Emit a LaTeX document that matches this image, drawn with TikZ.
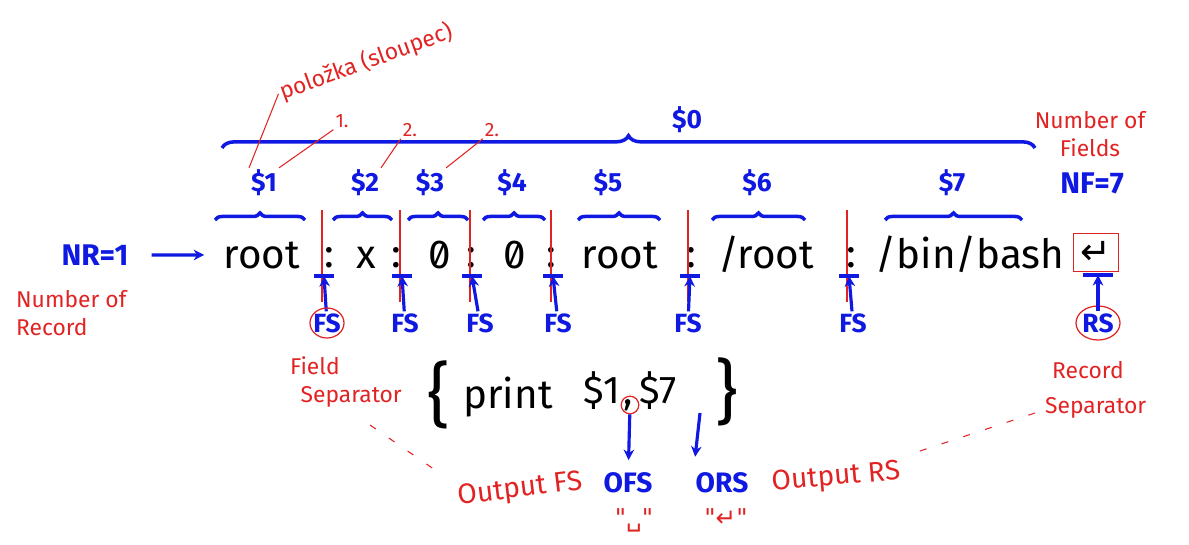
\documentclass[tikz,border=0pt]{standalone}
\usepackage{fontspec}
\setmainfont{Fira Sans}
\newfontfamily\symfont{DejaVu Sans}
\usetikzlibrary{arrows.meta,decorations.pathreplacing}
\definecolor{inkblue}{RGB}{15,25,225}
\definecolor{inkred}{RGB}{225,35,35}

\begin{document}
\begin{tikzpicture}[x=0.02cm,y=-0.02cm,
  rec/.style={font=\fontsize{23}{26}\selectfont,inner sep=0pt,anchor=base},
  fld/.style={text=inkblue,font=\bfseries\fontsize{15}{17}\selectfont,inner sep=1pt},
  note/.style={text=inkred,font=\fontsize{13}{16}\selectfont,align=left,inner sep=1pt},
  brc/.style={draw=inkblue,line width=2pt,decorate,decoration={brace,amplitude=#1}},
  sepline/.style={draw=inkred,line width=0.6pt},
  ring/.style={draw=inkred,line width=0.7pt},
  fsarrow/.style={draw=inkblue,line width=1.8pt,-{Stealth[length=6pt,width=6pt]}},
  tick/.style={draw=inkblue,line width=1.8pt},
  guide/.style={draw=inkred,line width=0.6pt,dash pattern=on 4pt off 9pt}]
\useasboundingbox (0,0) rectangle (1189,544);

% whole record and its fields
\draw[brc=7pt] (222,148) -- (1035,148);
\node[fld] (d0) at (687,120) {\$0};
\foreach \a/\b/\m [count=\i] in {215/305/264,333/392/365,408/468/430,483/545/512,578/660/608,712/805/757,885/1022/952}{
  \draw[brc=4pt] (\a,220) -- (\b,220);
  \node[fld] (d\i) at (\m,183) {\$\i};
}
\node[fld,font=\bfseries\fontsize{17}{19}\selectfont] (nf) at (1092,183) {NF=7};
\node[note,align=center] (nfnote) at (1090,134) {Number of\\Fields};

% position labels
\node[note,rotate=20] (pol) at (366,62) {položka (sloupec)};
\node[note,font=\fontsize{11}{13}\selectfont] (n1) at (342,121) {1.};
\node[note,font=\fontsize{11}{13}\selectfont] (n2) at (410,130) {2.};
\node[note,font=\fontsize{11}{13}\selectfont] (n3) at (492,130) {2.};
\draw[sepline] (d1.north west) -- (pol.west);
\draw[sepline] (d1.north east) -- (n1.south west);
\draw[sepline] (d2.north east) -- (n2.south west);
\draw[sepline] (d3.north east) -- (n3.south west);

% the record
\node[fld,font=\bfseries\fontsize{17}{19}\selectfont] (nr) at (95,255) {NR=1};
\node[note] (nrnote) at (14,313) [anchor=west] {Number of\\Record};
\node[rec] (r1) at (262,268) {root};
\node[rec] (c1) at (329,267) {:};
\node[rec] (r2) at (366,268) {x};
\node[rec] (c2) at (396,267) {:};
\node[rec] (r3) at (440,268) {\addfontfeatures{RawFeature=+zero}0};
\node[rec] (c3) at (471,267) {:};
\node[rec] (r4) at (515,268) {\addfontfeatures{RawFeature=+zero}0};
\node[rec] (c4) at (551,267) {:};
\node[rec] (r5) at (620,268) {root};
\node[rec] (c5) at (691,267) {:};
\node[rec] (r6) at (766,268) {/root};
\node[rec] (c6) at (851,267) {:};
\node[rec] (r7) at (970,268) {/bin/bash};
\node[rec,draw=inkred,line width=0.6pt,inner sep=4pt] (ret) at (1096,264) {\symfont\fontsize{21}{24}\selectfont ↵};
\draw[fsarrow,shorten <=12pt,shorten >=11pt] (nr) -- (r1.west);

% field separators
\foreach \s/\f [count=\k] in {322/327,400/405,470/480,551/558,688/688,847/853}{
  \draw[sepline] (\s,210) -- (\s,302);
  \coordinate (t\k) at (\s+2,276);
  \draw[tick] (t\k) ++(-10,0) -- ++(20,0);
  \node[fld] (fs\k) at (\f,323) {FS};
  \draw[fsarrow] (fs\k) -- (t\k);
}
\draw[ring] (fs1) ellipse [x radius=17, y radius=15];
\node[note] (fsep) at (288,382) [anchor=west] {Field\\\hspace*{6pt}Separator};

% record separator
\coordinate (rt) at (1098,275);
\draw[tick] (1083,275) -- (1113,275);
\node[fld] (rs) at (1098,323) {RS};
\draw[ring] (rs) ellipse [x radius=22, y radius=17];
\draw[fsarrow] (rs) -- (rt);
\node[note] (rsep) at (1043,390) [anchor=west] {\hspace*{4pt}Record\\[4pt]Separator};

% print statement
\node[rec,font=\fontsize{40}{44}\selectfont,anchor=center] (lb) at (439,395) {\{};
\node[rec] (prt) at (508,408) {print};
\node[rec,font=\fontsize{22}{24}\selectfont] (p1) at (602,403) {\$1};
\node[rec,font=\fontsize{22}{24}\selectfont] (cm) at (628,404) {,};
\node[rec,font=\fontsize{22}{24}\selectfont] (p7) at (658,403) {\$7};
\node[rec,font=\fontsize{40}{44}\selectfont,anchor=center] (rb) at (727,392) {\}};
\node[ring,circle,minimum size=10pt,inner sep=0pt] (cmc) at (630,405) {};

% output separators
\node[fld,font=\bfseries\fontsize{16}{18}\selectfont] (ofs) at (628,483) {OFS};
\node[fld,font=\bfseries\fontsize{16}{18}\selectfont] (ors) at (722,483) {ORS};
\coordinate (orstop) at (700,413);
\draw[fsarrow,shorten >=6pt] (cmc) -- (ofs);
\draw[fsarrow,shorten >=8pt] (orstop) -- (ors.north west);
\node[note,font=\fontsize{16}{18}\selectfont,rotate=7] (ofsn) at (520,490) {Output FS};
\node[note,font=\fontsize{16}{18}\selectfont,rotate=5] (orsn) at (836,478) {Output RS};
\node[note,font=\symfont\fontsize{14}{16}\selectfont] (ofsv) at (634,520) {"␣"};
\node[note,font=\symfont\fontsize{14}{16}\selectfont] (orsv) at (726,518) {"↵"};
\coordinate (g1) at (370,425);
\coordinate (g2) at (1035,413);
\draw[guide,shorten >=10pt] (g1) -- (ofsn.north west);
\draw[guide,shorten >=6pt] (g2) -- (orsn.north east);
\end{tikzpicture}
\end{document}
